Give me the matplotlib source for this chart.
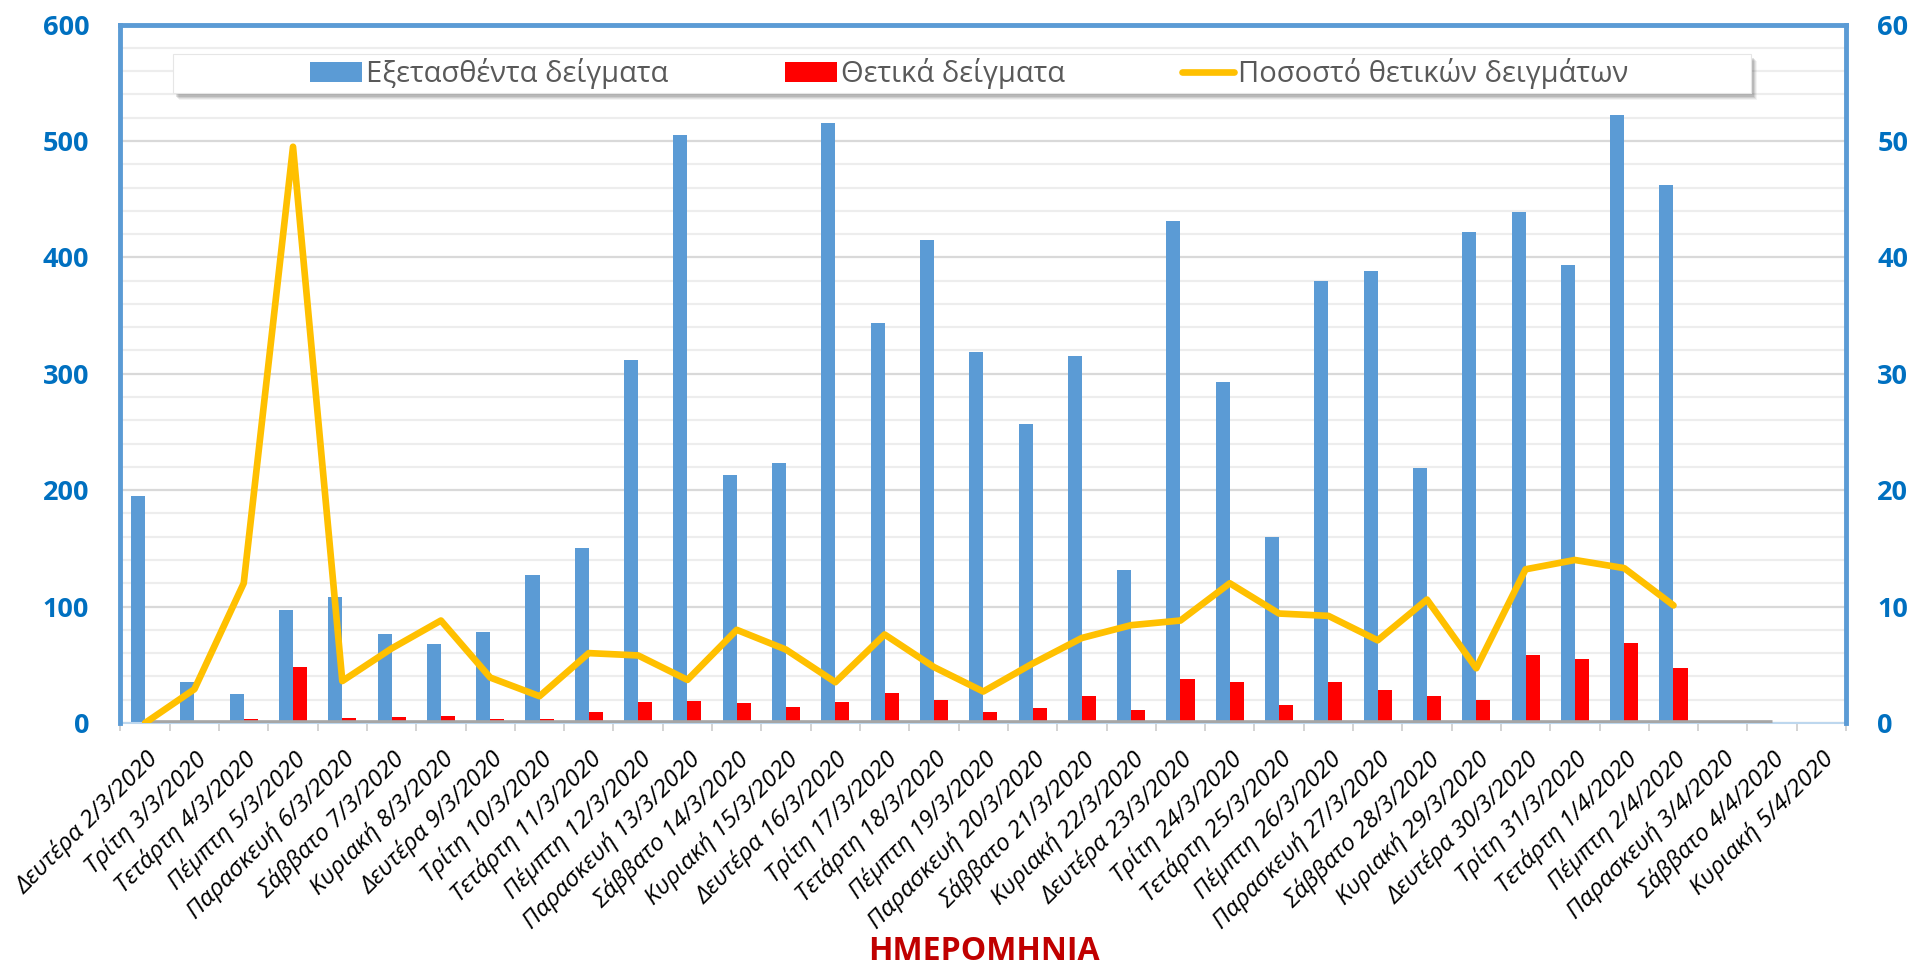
import matplotlib

matplotlib.use("Agg")
import matplotlib.pyplot as plt
import numpy as np
from matplotlib.font_manager import FontProperties
from matplotlib.patches import Rectangle

# dates on the x axis
days = [
    "Δευτέρα 2/3/2020", "Τρίτη 3/3/2020", "Τετάρτη 4/3/2020", "Πέμπτη 5/3/2020",
    "Παρασκευή 6/3/2020", "Σάββατο 7/3/2020", "Κυριακή 8/3/2020", "Δευτέρα 9/3/2020",
    "Τρίτη 10/3/2020", "Τετάρτη 11/3/2020", "Πέμπτη 12/3/2020", "Παρασκευή 13/3/2020",
    "Σάββατο 14/3/2020", "Κυριακή 15/3/2020", "Δευτέρα 16/3/2020", "Τρίτη 17/3/2020",
    "Τετάρτη 18/3/2020", "Πέμπτη 19/3/2020", "Παρασκευή 20/3/2020", "Σάββατο 21/3/2020",
    "Κυριακή 22/3/2020", "Δευτέρα 23/3/2020", "Τρίτη 24/3/2020", "Τετάρτη 25/3/2020",
    "Πέμπτη 26/3/2020", "Παρασκευή 27/3/2020", "Σάββατο 28/3/2020", "Κυριακή 29/3/2020",
    "Δευτέρα 30/3/2020", "Τρίτη 31/3/2020", "Τετάρτη 1/4/2020", "Πέμπτη 2/4/2020",
    "Παρασκευή 3/4/2020", "Σάββατο 4/4/2020", "Κυριακή 5/4/2020",
]
tested = [195, 35, 25, 97, 108, 76, 68, 78, 127, 150, 312, 505, 213, 223, 515, 344, 415,
          319, 257, 315, 131, 431, 293, 160, 380, 388, 219, 422, 439, 393, 522, 462, 0, 0, 0]
positive = [0, 1, 3, 48, 4, 5, 6, 3, 3, 9, 18, 19, 17, 14, 18, 26, 20,
            9, 13, 23, 11, 38, 35, 15, 35, 28, 23, 20, 58, 55, 69, 47, 0, 0, 0]
pct_positive = [0, 2.9, 12.0, 49.5, 3.6, 6.4, 8.8, 3.9, 2.3, 6.0, 5.8, 3.7, 8.0, 6.3, 3.5, 7.6,
                4.8, 2.7, 5.1, 7.3, 8.4, 8.8, 12.0, 9.4, 9.2, 7.1, 10.6, 4.7, 13.2, 14.0, 13.3, 10.1]
# grey zero series, runs up to 4/4
zero_series = [0] * 34

legend_labels = ["Εξετασθέντα δείγματα", "Θετικά δείγματα", "Ποσοστό θετικών δειγμάτων"]

BLUE = "#5B9BD5"
RED = "#FF0000"
GOLD = "#FFC000"
TICK_BLUE = "#0070C0"

fig = plt.figure(figsize=(19.15, 9.66), dpi=100)
ax = fig.add_axes([0.0629, 0.2516, 0.9011, 0.7230])
ax2 = ax.twinx()

x = np.arange(len(days))
w = 0.285
b1 = ax.bar(x - w / 2, tested, w, color=BLUE, zorder=2)
b2 = ax.bar(x + w / 2, positive, w, color=RED, zorder=2)
ax.plot(np.arange(len(zero_series)), zero_series, color="#A6A6A6", lw=4.8,
        solid_capstyle="butt", zorder=3)
(l1,) = ax2.plot(np.arange(len(pct_positive)), pct_positive, color=GOLD, lw=4.8,
                 solid_joinstyle="round", solid_capstyle="round", zorder=3)

ax.set_xlim(-0.5, len(days) - 0.5)
ax.set_ylim(0, 600)
ax2.set_ylim(0, 60)
ax.set_yticks(np.arange(0, 601, 100))
ax.set_yticks(np.arange(0, 601, 20), minor=True)
ax2.set_yticks(np.arange(0, 61, 10))
ax.set_axisbelow(True)
ax.grid(which="minor", axis="y", color="#EDEDED", lw=1.6)
ax.grid(which="major", axis="y", color="#D9D9D9", lw=1.6)

ax.set_xticks(x)
ax.set_xticks(np.arange(-0.5, len(days)), minor=True)
xfont = FontProperties(family=["Open Sans", "DejaVu Sans"], style="italic", size=17.5)
ax.set_xticklabels(days, rotation=45, ha="right", va="top", rotation_mode="anchor",
                   fontproperties=xfont)
ax.tick_params(axis="x", which="major", length=0, pad=17)
ax.tick_params(axis="x", which="minor", length=5.8, width=1.1, color="#C8C8C8")
ax.tick_params(axis="y", which="both", length=0, pad=22.5)
ax2.tick_params(axis="y", which="both", length=0, pad=22.5)

yfont = FontProperties(family=["Open Sans", "DejaVu Sans"], weight="bold", size=19.5)
for lbl in ax.get_yticklabels() + ax2.get_yticklabels():
    lbl.set_fontproperties(yfont)
    lbl.set_color(TICK_BLUE)

for s in ("left", "top", "right"):
    ax.spines[s].set_visible(False)
    ax2.spines[s].set_color(BLUE)
    ax2.spines[s].set_linewidth(3.5)
ax.spines["bottom"].set_color("#BDD7EE")
ax.spines["bottom"].set_linewidth(1.5)
ax2.spines["bottom"].set_visible(False)

# legend box with a soft shadow
lx, ly, lw_, lh = 0.0307, 0.9017, 0.9142, 0.0566
px_x = 1 / (0.9011 * 1915)
px_y = 1 / (0.7230 * 966)
for dx, dy, a in [(6, -7, 0.06), (5, -6, 0.09), (4, -5, 0.12), (3, -4, 0.15)]:
    ax2.add_patch(Rectangle((lx + dx * px_x, ly + dy * px_y), lw_, lh, transform=ax2.transAxes,
                            facecolor="#404040", edgecolor="none", alpha=a, zorder=4))
ax2.add_patch(Rectangle((lx, ly), lw_, lh, transform=ax2.transAxes, facecolor="white",
                        edgecolor="#E6E6E6", lw=0.8, zorder=4.5))
ax2.legend([b1, b2, l1], legend_labels, ncol=3, loc="center", bbox_to_anchor=(0.4919, 0.930),
           frameon=False, prop=FontProperties(family=["Open Sans", "DejaVu Sans"], size=21),
           labelcolor="#595959", columnspacing=4.0, handlelength=1.78, handletextpad=0.15)

fig.text(984 / 1915, 1 - 960 / 966, "ΗΜΕΡΟΜΗΝΙΑ", ha="center", va="baseline",
         fontproperties=FontProperties(family=["Open Sans", "DejaVu Sans"], weight="bold", size=23),
         color="#C00000")

fig.savefig("out.png", dpi=100)
